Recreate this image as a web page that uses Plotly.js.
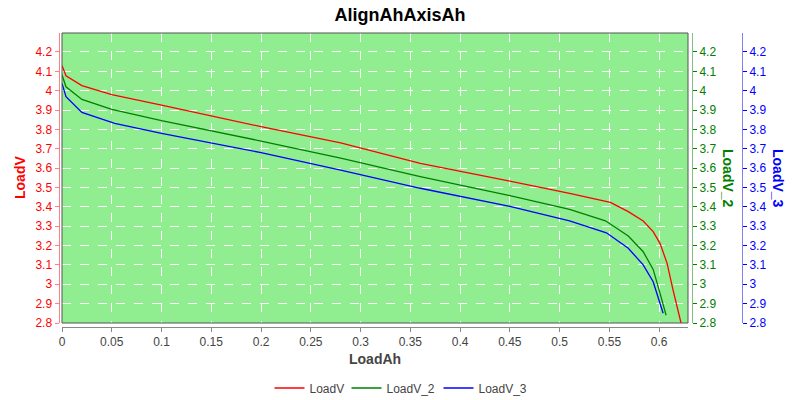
<!DOCTYPE html>
<html>
<head>
<meta charset="utf-8">
<script src="https://cdn.plot.ly/plotly-3.0.1.min.js"></script>
<style>html,body{margin:0;padding:0;background:#fff}#chart{width:800px;height:400px}</style>
</head>
<body>
<div id="chart"></div>
<script>
// Series data (LoadAh vs voltage)
const loadV_x = [0, 0.004, 0.02, 0.05, 0.1, 0.2, 0.28, 0.36, 0.45, 0.51, 0.551, 0.569, 0.584, 0.594, 0.601, 0.608, 0.614, 0.622];
const loadV_y = [4.13, 4.077, 4.026, 3.98, 3.926, 3.814, 3.731, 3.625, 3.533, 3.47, 3.423, 3.375, 3.327, 3.272, 3.21, 3.108, 2.97, 2.8];

const loadV2_x = [0, 0.004, 0.02, 0.05, 0.1, 0.2, 0.28, 0.36, 0.45, 0.51, 0.546, 0.569, 0.584, 0.594, 0.6, 0.607];
const loadV2_y = [4.081, 4.02, 3.955, 3.904, 3.845, 3.74, 3.652, 3.556, 3.458, 3.387, 3.328, 3.249, 3.168, 3.077, 2.97, 2.84];

const loadV3_x = [0, 0.004, 0.02, 0.053, 0.1, 0.2, 0.28, 0.36, 0.45, 0.51, 0.547, 0.569, 0.584, 0.594, 0.604];
const loadV3_y = [4.038, 3.969, 3.888, 3.831, 3.78, 3.68, 3.59, 3.496, 3.403, 3.328, 3.266, 3.186, 3.1, 3.013, 2.85];

const seriesNames = ["LoadV", "LoadV_2", "LoadV_3"];
const chartTitle = "AlignAhAxisAh";
const xTitle = "LoadAh";

const FONT = "Liberation Sans, Arial, sans-serif";
const W = 742, H = 320, L = 50, T = 20;
const px = v => (v - L) / W;          // pixel x -> paper
const py = v => (T + H - v) / H;      // pixel y -> paper

const traces = [
  {x: loadV_x, y: loadV_y, name: seriesNames[0], type: "scatter", mode: "lines", line: {color: "#FF0000", width: 1.3}, yaxis: "y", legendwidth: 32},
  {x: loadV2_x, y: loadV2_y, name: seriesNames[1], type: "scatter", mode: "lines", line: {color: "#008000", width: 1.3}, yaxis: "y2", legendwidth: 47},
  {x: loadV3_x, y: loadV3_y, name: seriesNames[2], type: "scatter", mode: "lines", line: {color: "#0000FF", width: 1.3}, yaxis: "y3", legendwidth: 47}
];

const yCommon = {
  range: [2.8, 4.298], dtick: 0.1, tick0: 2.8, ticks: "outside", ticklen: 4,
  showline: true, linewidth: 1, zeroline: false,
  domain: [py(323), py(33)], tickfont: {family: FONT, size: 12}
};

const layout = {
  width: 800, height: 400,
  margin: {l: L, r: 800 - L - W, t: T, b: 400 - T - H},
  paper_bgcolor: "#FFFFFF",
  plot_bgcolor: "#90EE90",
  font: {family: FONT, size: 12, color: "#444"},
  title: {text: chartTitle, font: {family: FONT, size: 18, color: "#000", weight: "bold"}, x: 0.5, xref: "container", y: 1 - 15 / 400, yref: "container", yanchor: "middle"},
  showlegend: true,
  legend: {orientation: "h", xref: "container", yref: "container", x: 0.5, xanchor: "center", y: 1 - 388 / 400, yanchor: "middle", font: {family: FONT, size: 12, color: "#444"}},
  xaxis: {
    range: [0, 0.629], dtick: 0.05, tick0: 0,
    domain: [px(62), px(688)], anchor: "free", position: py(326.5),
    showgrid: true, gridcolor: "#FFFFFF", griddash: "dash", gridwidth: 1,
    ticks: "outside", ticklen: 4, tickcolor: "#888", showline: true, linecolor: "#888",
    zeroline: false, tickfont: {family: FONT, size: 12, color: "#444"}
  },
  yaxis: Object.assign({}, yCommon, {
    anchor: "free", position: px(58.5), side: "left",
    linecolor: "#FF8080", tickcolor: "#FF8080", tickfont: {family: FONT, size: 12, color: "#FF0000"},
    showgrid: true, gridcolor: "#FFFFFF", griddash: "dash"
  }),
  yaxis2: Object.assign({}, yCommon, {
    overlaying: "y", anchor: "free", position: px(692), side: "right",
    linecolor: "#80C080", tickcolor: "#008000", tickfont: {family: FONT, size: 12, color: "#008000"},
    showgrid: false
  }),
  yaxis3: Object.assign({}, yCommon, {
    overlaying: "y", anchor: "free", position: px(742), side: "right",
    linecolor: "#8080FF", tickcolor: "#0000FF", tickfont: {family: FONT, size: 12, color: "#0000FF"},
    showgrid: false
  }),
  shapes: [
    {type: "rect", xref: "paper", yref: "paper", x0: px(62), x1: px(688), y0: py(323), y1: py(33),
     line: {color: "#555555", width: 1}, fillcolor: "rgba(0,0,0,0)", layer: "above"}
  ],
  annotations: [
    {text: "<b>" + xTitle + "</b>", xref: "paper", yref: "paper", x: px(375), y: py(359), showarrow: false, xanchor: "center", yanchor: "middle", font: {family: FONT, size: 14, color: "#444"}},
    {text: "<b>" + seriesNames[0] + "</b>", xref: "paper", yref: "paper", x: px(20), y: py(178), showarrow: false, textangle: -90, xanchor: "center", yanchor: "middle", font: {family: FONT, size: 14, color: "#FF0000"}},
    {text: "<b>" + seriesNames[1] + "</b>", xref: "paper", yref: "paper", x: px(728), y: py(178), showarrow: false, textangle: 90, xanchor: "center", yanchor: "middle", font: {family: FONT, size: 14, color: "#008000"}},
    {text: "<b>" + seriesNames[2] + "</b>", xref: "paper", yref: "paper", x: px(778), y: py(178), showarrow: false, textangle: 90, xanchor: "center", yanchor: "middle", font: {family: FONT, size: 14, color: "#0000FF"}}
  ]
};

Plotly.newPlot("chart", traces, layout, {displayModeBar: false, staticPlot: true});
</script>
</body>
</html>
